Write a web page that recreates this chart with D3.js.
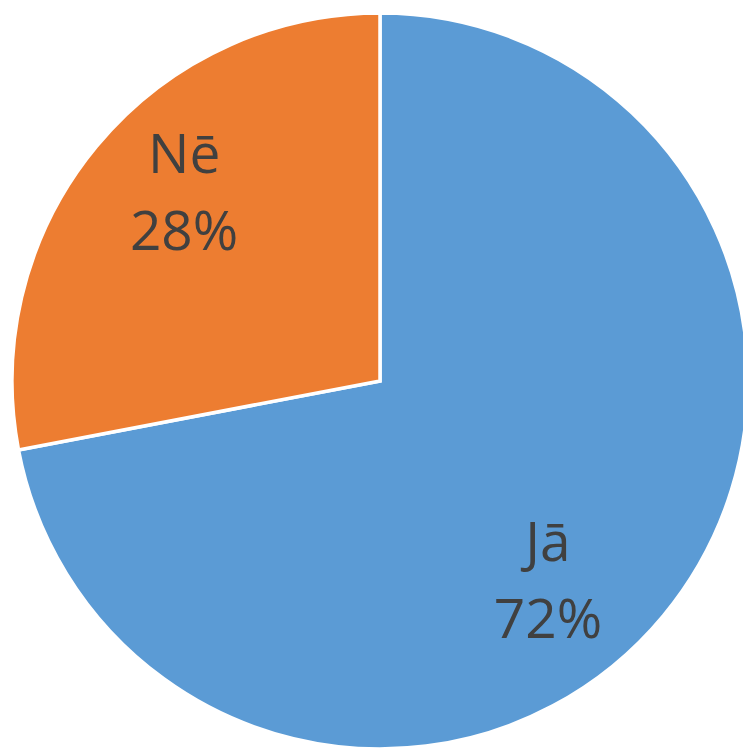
<!DOCTYPE html>
<html>
<head>
<meta charset="utf-8">
<script src="https://cdn.jsdelivr.net/npm/d3@7"></script>
<style>
  html, body { margin: 0; padding: 0; background: #fff; overflow: hidden; }
</style>
</head>
<body>
<div id="chart"></div>
<script>
// data
var categories = ["Jā", "Nē"];
var values = [72, 28];
var colors = ["#5B9BD5", "#ED7D31"];

var width = 743, height = 748;
var cx = 380, cy = 381, radius = 368;

var svg = d3.select("#chart")
  .append("svg")
    .attr("width", width)
    .attr("height", height)
  .append("g")
    .attr("transform", "translate(" + cx + "," + cy + ")");

var data = categories.map(function(c, i) { return {name: c, value: values[i], color: colors[i]}; });

var pie = d3.pie()
  .value(function(d) { return d.value; })
  .sort(null);

var arc = d3.arc()
  .innerRadius(0)
  .outerRadius(radius);

var arcs = pie(data);

svg.selectAll("path")
  .data(arcs)
  .enter().append("path")
    .attr("d", arc)
    .attr("fill", function(d) { return d.data.color; })
    .attr("stroke", "#fff")
    .attr("stroke-width", 3.5)
    .attr("stroke-linejoin", "miter");

// label placement like Excel (nudged a bit off the mid angle)
var labelNudge = {"Jā": {da: 10.2, r: 0.707}, "Nē": {da: 4.4, r: 0.74}};

var labels = svg.selectAll("text.lbl")
  .data(arcs)
  .enter().append("text")
    .attr("class", "lbl")
    .attr("text-anchor", "middle")
    .attr("fill", "#404040")
    .style("font-family", "'Open Sans', sans-serif")
    .style("font-size", "55px")
    .attr("transform", function(d) {
      var n = labelNudge[d.data.name];
      var a = (d.startAngle + d.endAngle) / 2 + n.da * Math.PI / 180;
      var r = radius * n.r;
      return "translate(" + (Math.sin(a) * r) + "," + (-Math.cos(a) * r) + ")";
    });

labels.append("tspan")
  .attr("x", 0)
  .attr("y", -19)
  .text(function(d) { return d.data.name; });

labels.append("tspan")
  .attr("x", 0)
  .attr("y", 58)
  .text(function(d) { return Math.round(d.value / d3.sum(values) * 100) + "%"; });
</script>
</body>
</html>
